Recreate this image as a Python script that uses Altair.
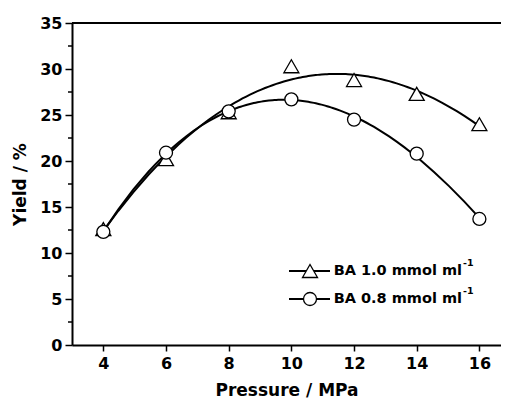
import altair as alt
import pandas as pd

# ---- data ----
pressure = [4, 6, 8, 10, 12, 14, 16]
yield_ba10 = [12.6, 20.2, 25.3, 30.3, 28.8, 27.3, 24.0]
yield_ba08 = [12.3, 20.9, 25.4, 26.7, 24.5, 20.8, 13.7]
series_names = ["BA 1.0", "BA 0.8"]
legend_labels = ["BA 1.0 mmol ml", "BA 0.8 mmol ml"]
x_ticks = [4, 6, 8, 10, 12, 14, 16]
y_ticks = [0, 5, 10, 15, 20, 25, 30, 35]
y_minor = [2.5, 7.5, 12.5, 17.5, 22.5, 27.5, 32.5]

W, H = 429, 322
FONT = "DejaVu Sans"

df = pd.DataFrame({
    "pressure": pressure * 2,
    "yield": yield_ba10 + yield_ba08,
    "series": [s for s in series_names for _ in pressure],
})
minor_df = pd.DataFrame({"v": y_minor})
one = alt.Data(values=[{}])

xs = alt.Scale(domain=[3, 16.69], nice=False)
ys = alt.Scale(domain=[0, 35], nice=False)

x_axis = alt.Axis(values=x_ticks, title="Pressure / MPa", format="d", grid=False,
                  tickSize=6, labelPadding=4, titlePadding=11)
y_axis = alt.Axis(values=y_ticks, title="Yield / %", format="d", grid=False,
                  tickSize=7, labelPadding=3, titlePadding=10)

base = alt.Chart(df)

curves = base.transform_regression(
    "pressure", "yield", method="poly", order=3, groupby=["series"]
).mark_line(color="black", strokeWidth=2).encode(
    x=alt.X("pressure:Q", scale=xs, axis=x_axis),
    y=alt.Y("yield:Q", scale=ys, axis=y_axis),
    detail="series:N",
)

tri = base.transform_filter(alt.datum.series == series_names[0]).mark_point(
    shape="triangle-up", size=225, fill="white", fillOpacity=1, stroke="black",
    strokeWidth=1.3, opacity=1
).encode(x=alt.X("pressure:Q", scale=xs, axis=x_axis),
         y=alt.Y("yield:Q", scale=ys, axis=y_axis))

circ = base.transform_filter(alt.datum.series == series_names[1]).mark_point(
    shape="circle", size=169, fill="white", fillOpacity=1, stroke="black",
    strokeWidth=1.3, opacity=1
).encode(x=alt.X("pressure:Q", scale=xs, axis=x_axis),
         y=alt.Y("yield:Q", scale=ys, axis=y_axis))

minor = alt.Chart(minor_df).mark_rule(color="black", strokeWidth=1.5).encode(
    y=alt.Y("v:Q", scale=ys, axis=y_axis),
    x=alt.value(-4), x2=alt.value(0),
)

top_line = alt.Chart(one).mark_rule(color="black", strokeWidth=2).encode(
    x=alt.value(0), x2=alt.value(W), y=alt.value(0)
)

legend_layers = []
rows = [(248, "triangle-up", 225), (276, "circle", 169)]
for (yy, shp, sz), lab in zip(rows, legend_labels):
    legend_layers.append(alt.Chart(one).mark_rule(color="black", strokeWidth=2).encode(
        x=alt.value(217), x2=alt.value(258), y=alt.value(yy)))
    legend_layers.append(alt.Chart(one).mark_point(
        shape=shp, size=sz, fill="white", fillOpacity=1, stroke="black",
        strokeWidth=1.3, opacity=1).encode(x=alt.value(238), y=alt.value(yy)))
    legend_layers.append(alt.Chart(one).mark_text(
        align="right", baseline="middle", font=FONT, fontWeight="bold",
        fontSize=14.5, color="black").encode(
        x=alt.value(390), y=alt.value(yy), text=alt.value(lab)))
    legend_layers.append(alt.Chart(one).mark_text(
        align="left", baseline="middle", font=FONT, fontWeight="bold",
        fontSize=9.5, color="black").encode(
        x=alt.value(391), y=alt.value(yy - 8), text=alt.value("-1")))

chart = alt.layer(minor, curves, tri, circ, top_line, *legend_layers).properties(
    width=W, height=H,
    padding={"left": 64, "top": 15, "right": 0, "bottom": 53},
    autosize=alt.AutoSizeParams(type="none"),
).configure_view(stroke=None).configure_axis(
    domainColor="black", domainWidth=2, tickColor="black", tickWidth=1.5,
    labelFont=FONT, labelFontSize=16, labelFontWeight="bold", labelColor="black",
    titleFont=FONT, titleFontSize=17, titleFontWeight="bold", titleColor="black",
)

chart.save("out.html", embed_options={"renderer": "svg", "actions": False})
